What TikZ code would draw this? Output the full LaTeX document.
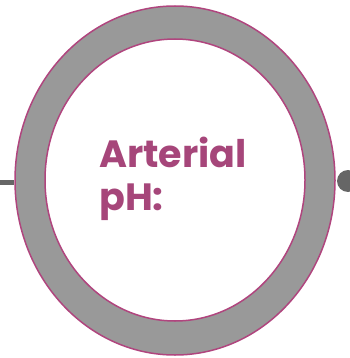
\documentclass[tikz,border=0pt]{standalone}
\usepackage{fontspec}
\setmainfont{Poppins}
\usetikzlibrary{shapes.geometric}
\definecolor{ringgray}{HTML}{999999}
\definecolor{rimpink}{HTML}{B0457E}
\definecolor{labelpink}{HTML}{A6467A}
\definecolor{knobgray}{HTML}{666666}
\newcommand{\phlabel}{Arterial\\pH:}

\begin{document}
\begin{tikzpicture}[x=1pt,y=-1pt,
                    ring/.style={
                        ellipse,
                        draw=rimpink,
                        line width=1.5pt,
                        inner sep=0pt
                    },
                    title/.style={
                        align=left,
                        inner sep=0pt,
                        text=labelpink,
                        font=\bfseries\fontsize{38}{43}\selectfont
                    }]

    \useasboundingbox (0,0) rectangle (349,358);

    \coordinate (feed) at (0,182);
    \node[circle, fill=knobgray, minimum size=22pt, inner sep=0pt] (knob) at (348,181) {};

    \node[ring, fill=ringgray, minimum width=320pt, minimum height=349pt] (outer) at (175,180.5) {};
    \node[ring, fill=white, minimum width=260pt, minimum height=282pt] (inner) at (175,180) {};

    \draw[knobgray, line width=5pt] (feed) -- (feed -| outer.west);

    \node[title, anchor=base west] (ph) at (99,210) {\phlabel};

\end{tikzpicture}
\end{document}
